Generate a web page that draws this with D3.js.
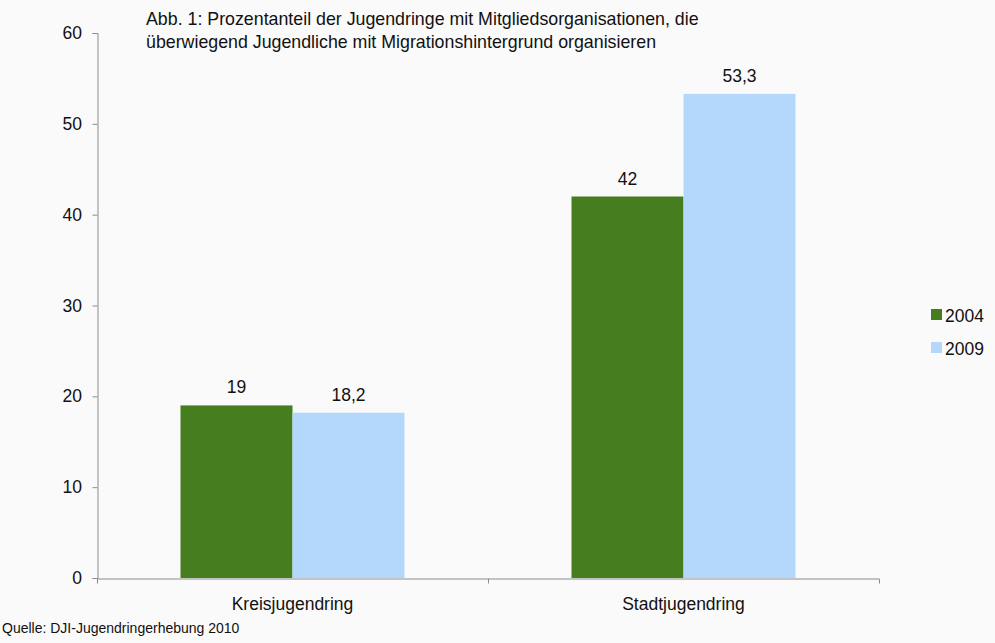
<!DOCTYPE html>
<html>
<head>
<meta charset="utf-8">
<script src="https://cdn.jsdelivr.net/npm/d3@7"></script>
<style>
  body { margin: 0; background: #fafafa; }
  svg { display: block; font-family: "Liberation Sans", Arial, sans-serif; }
</style>
</head>
<body>
<div id="chart"></div>
<script>
const categories = ["Kreisjugendring", "Stadtjugendring"];
const years = ["2004", "2009"];
const values2004 = [19, 42];
const values2009 = [18.2, 53.3];
const labels2004 = ["19", "42"];
const labels2009 = ["18,2", "53,3"];
const yTicks = [0, 10, 20, 30, 40, 50, 60];

const width = 995, height = 643;
const colors = { "2004": "#467d1e", "2009": "#b4d8fc" };
const fs = 17.5;

const svg = d3.select("#chart").append("svg")
  .attr("width", width).attr("height", height);

svg.append("rect").attr("width", width).attr("height", height).attr("fill", "#fafafa");

const x = d3.scaleBand().domain(categories).range([97, 879]).padding(0);
const y = d3.scaleLinear().domain([0, 60]).range([578, 33]);
const barW = 112;

const data = [];
categories.forEach((c, i) => {
  data.push({ cat: c, year: "2004", value: values2004[i], label: labels2004[i], k: 0 });
  data.push({ cat: c, year: "2009", value: values2009[i], label: labels2009[i], k: 1 });
});
const barX = d => x(d.cat) + x.bandwidth() / 2 - barW + d.k * barW;

svg.selectAll(".bar").data(data).join("rect")
  .attr("class", "bar")
  .attr("x", barX)
  .attr("y", d => y(d.value))
  .attr("width", barW)
  .attr("height", d => y(0) - y(d.value))
  .attr("fill", d => colors[d.year]);

svg.selectAll(".val").data(data).join("text")
  .attr("class", "val")
  .attr("x", d => barX(d) + barW / 2)
  .attr("y", d => y(d.value) - 12)
  .attr("text-anchor", "middle")
  .attr("font-size", fs)
  .attr("fill", "#111")
  .text(d => d.label);

// y axis
const yAxis = svg.append("g").attr("transform", "translate(97.5,0)")
  .call(d3.axisLeft(y).tickValues(yTicks).tickSize(5).tickPadding(10.5));
yAxis.selectAll("text").attr("font-size", fs).attr("fill", "#111").attr("font-family", "Liberation Sans, Arial, sans-serif");

// x axis
const xAxis = svg.append("g").attr("transform", "translate(0,578.5)")
  .call(d3.axisBottom(x).tickValues([]).tickSizeOuter(5));
svg.append("line").attr("x1", 488.5).attr("x2", 488.5).attr("y1", 578.5).attr("y2", 583.5).attr("stroke", "#8c8c8c");

svg.selectAll(".domain, .tick line").attr("stroke", "#8c8c8c");

svg.selectAll(".cat").data(categories).join("text")
  .attr("class", "cat")
  .attr("x", d => x(d) + x.bandwidth() / 2)
  .attr("y", 610)
  .attr("text-anchor", "middle")
  .attr("font-size", fs)
  .attr("fill", "#111")
  .text(d => d);

// title
const title = svg.append("text").attr("x", 146).attr("font-size", 17.8).attr("fill", "#111");
title.append("tspan").attr("x", 146).attr("y", 25).text("Abb. 1: Prozentanteil der Jugendringe mit Mitgliedsorganisationen, die");
title.append("tspan").attr("x", 146).attr("y", 48).text("überwiegend Jugendliche mit Migrationshintergrund organisieren");

// legend
const legend = svg.selectAll(".leg").data(years).join("g")
  .attr("class", "leg")
  .attr("transform", (d, i) => `translate(931,${309 + i * 33})`);
legend.append("rect").attr("width", 11).attr("height", 11).attr("fill", d => colors[d]);
legend.append("text").attr("x", 14).attr("y", 13).attr("font-size", fs).attr("fill", "#111").text(d => d);

svg.append("text").attr("x", 2).attr("y", 633).attr("font-size", 14).attr("fill", "#111")
  .text("Quelle: DJI-Jugendringerhebung 2010");
</script>
</body>
</html>
